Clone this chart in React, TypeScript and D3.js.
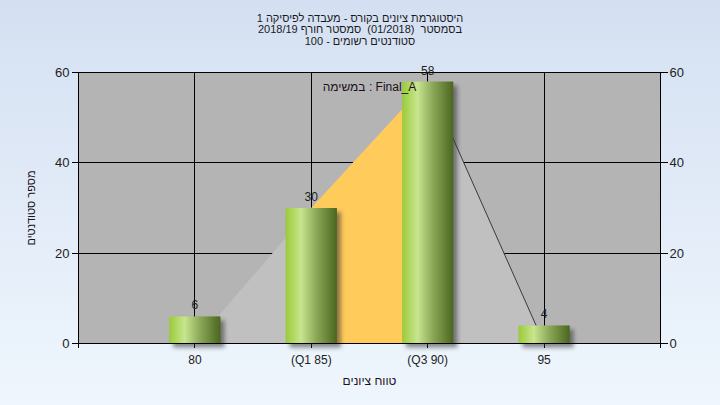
import React from "react";
import * as d3 from "d3";

const categories = ["80", "(Q1 85)", "(Q3 90)", "95"];
const grades = [80, 85, 90, 95];
const counts = [6, 30, 58, 4];
const areaValues = [0, 30, 58, 0];
const yTicks = [0, 20, 40, 60];
const titleLines = [
  "היסטוגרמת ציונים בקורס - מעבדה לפיסיקה 1",
  "בסמסטר  (01/2018)  סמסטר חורף 2018/19",
  "סטודנטים רשומים - 100",
];
const noteText = "במשימה : Final_A";
const xTitle = "טווח ציונים";
const yTitle = "מספר סטודנטים";

const W = 720;
const H = 405;
const L = 78.5, R = 660.5, T = 72.5, B = 343.5;
const FONT = "'Liberation Sans', Arial, sans-serif";

export default function App() {
  const x = d3.scaleLinear().domain([75, 100]).range([L, R]);
  const y = d3.scaleLinear().domain([0, 60]).range([B, T]);
  const step = x(85) - x(80);
  const bw = step * 0.44;

  const areaGen = d3
    .area<number>()
    .x((_, i) => x(grades[i]))
    .y0(y(0))
    .y1((d) => y(d));
  const fullArea = areaGen(areaValues) || "";
  const orangeIdx = [1, 2];
  const orangeArea =
    areaGen.defined((_, i) => orangeIdx.includes(i))(areaValues) || "";
  const lineGen = d3
    .line<number>()
    .x((_, i) => x(grades[i + 2]))
    .y((d) => y(d));
  const edgeLine = lineGen(areaValues.slice(2)) || "";

  const rtl = { direction: "rtl" as const, whiteSpace: "pre" as const };
  const ltr = { direction: "ltr" as const, whiteSpace: "pre" as const };

  return (
    <svg
      width={W}
      height={H}
      style={{ position: "fixed", left: 0, top: 0 }}
      fontFamily={FONT}
    >
      <defs>
        <linearGradient id="bg" x1="0" y1="0" x2="0" y2="1">
          <stop offset="0" stopColor="#d4e0f2" />
          <stop offset="1" stopColor="#eff6fd" />
        </linearGradient>
        <linearGradient id="bar" x1="0" y1="0" x2="1" y2="0">
          <stop offset="0" stopColor="#9acb38" />
          <stop offset="0.3" stopColor="#c8e58f" />
          <stop offset="0.6" stopColor="#8aa858" />
          <stop offset="1" stopColor="#4b661f" />
        </linearGradient>
        <filter id="blur" x="-20%" y="-20%" width="140%" height="140%">
          <feGaussianBlur stdDeviation="2" />
        </filter>
      </defs>
      <rect x={0} y={0} width={W} height={H} fill="url(#bg)" />

      {titleLines.map((t, i) => (
        <text
          key={i}
          x={360}
          y={21.5 + i * 11.7}
          textAnchor="middle"
          fontSize={11}
          fill="#1a1a1a"
          direction="rtl"
          style={rtl}
        >
          {t}
        </text>
      ))}

      <rect x={L} y={T} width={R - L} height={B - T} fill="#b4b4b4" />

      {yTicks.map((v) => (
        <line key={"g" + v} x1={L} x2={R} y1={y(v)} y2={y(v)} stroke="#000" shapeRendering="crispEdges" />
      ))}
      {grades.map((g) => (
        <line key={"v" + g} x1={x(g)} x2={x(g)} y1={T} y2={B + 4} stroke="#000" shapeRendering="crispEdges" />
      ))}

      <path d={fullArea} fill="#c0c0c0" />
      <path d={orangeArea} fill="#ffcb5b" />
      <path d={edgeLine} fill="none" stroke="#3a3a3a" strokeWidth={1} />

      {counts.map((c, i) => (
        <rect
          key={"s" + i}
          x={x(grades[i]) - bw / 2 + 4}
          y={y(c) + 4}
          width={bw}
          height={y(0) - y(c)}
          fill="#333"
          opacity={0.55}
          filter="url(#blur)"
        />
      ))}
      {counts.map((c, i) => (
        <rect
          key={"b" + i}
          x={x(grades[i]) - bw / 2}
          y={y(c)}
          width={bw}
          height={y(0) - y(c)}
          fill="url(#bar)"
        />
      ))}

      <rect x={L} y={T} width={R - L} height={B - T} fill="none" stroke="#000" shapeRendering="crispEdges" />
      <line x1={L} x2={L} y1={B} y2={B + 4} stroke="#000" shapeRendering="crispEdges" />
      <line x1={R} x2={R} y1={B} y2={B + 4} stroke="#000" shapeRendering="crispEdges" />

      {yTicks.map((v) => (
        <g key={"t" + v}>
          <line x1={L - 7} x2={L} y1={y(v)} y2={y(v)} stroke="#000" shapeRendering="crispEdges" />
          <line x1={R} x2={R + 7} y1={y(v)} y2={y(v)} stroke="#000" shapeRendering="crispEdges" />
          <text x={L - 9} y={y(v) + 4.5} textAnchor="end" fontSize={13} fill="#222">
            {v}
          </text>
          <text x={R + 9} y={y(v) + 4.5} textAnchor="start" fontSize={13} fill="#222">
            {v}
          </text>
        </g>
      ))}

      {categories.map((c, i) => (
        <text key={"c" + i} x={x(grades[i])} y={364} textAnchor="middle" fontSize={12} fill="#222">
          {c}
        </text>
      ))}

      {counts.map((c, i) => (
        <text key={"l" + i} x={x(grades[i])} y={y(c) - 7} textAnchor="middle" fontSize={12} fill="#222">
          {c}
        </text>
      ))}

      <text x={(L + R) / 2} y={90.5} textAnchor="middle" fontSize={12} fill="#201020" direction="ltr" style={ltr}>
        {noteText}
      </text>
      <text x={(L + R) / 2} y={385} textAnchor="middle" fontSize={12} fill="#201020" direction="rtl" style={rtl}>
        {xTitle}
      </text>
      <text
        transform={`translate(35, ${(T + B) / 2}) rotate(-90)`}
        textAnchor="middle"
        fontSize={11}
        fill="#201020"
        direction="rtl"
        style={rtl}
      >
        {yTitle}
      </text>
    </svg>
  );
}
